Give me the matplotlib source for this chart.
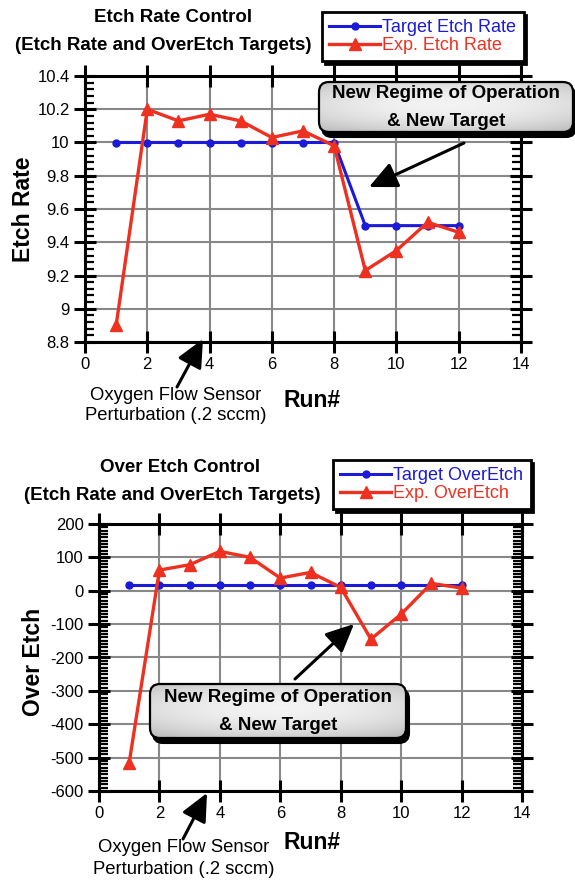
import numpy as np
import matplotlib.pyplot as plt
from matplotlib.patches import FancyBboxPatch
from matplotlib.ticker import MultipleLocator, FuncFormatter

plt.rcParams['font.family'] = ['Liberation Sans', 'DejaVu Sans']
plt.rcParams['axes.unicode_minus'] = False

# data
runs = [1, 2, 3, 4, 5, 6, 7, 8, 9, 10, 11, 12]
target_rate = [10.0, 10.0, 10.0, 10.0, 10.0, 10.0, 10.0, 10.0, 9.5, 9.5, 9.5, 9.5]
exp_rate = [8.9, 10.2, 10.13, 10.17, 10.13, 10.03, 10.07, 9.98, 9.23, 9.35, 9.52, 9.46]
target_oe = [18, 18, 18, 18, 18, 18, 18, 18, 18, 18, 18, 18]
exp_oe = [-515, 62, 78, 118, 100, 38, 55, 10, -145, -70, 22, 8]

W, H = 575, 880
BLUE = '#1a1ad8'
RED = '#ee3020'

fig = plt.figure(figsize=(W / 100, H / 100), dpi=100)


def fig_box(l, t, r, b):
    """pixel box -> figure fraction rect"""
    return [l / W, 1 - b / H, (r - l) / W, (b - t) / H]


def setup_axes(ax, ylim, ymajor, yminor, ylabel, xlab_pos, ylab_pos):
    ax.set_xlim(0, 14)
    ax.set_ylim(*ylim)
    ax.xaxis.set_major_locator(MultipleLocator(2))
    ax.yaxis.set_major_locator(MultipleLocator(ymajor))
    ax.yaxis.set_minor_locator(MultipleLocator(yminor))
    ax.yaxis.set_major_formatter(FuncFormatter(lambda v, p: '%g' % round(v, 6)))
    ax.grid(True, which='major', color='#888888', lw=1.5)
    ax.set_axisbelow(True)
    for s in ax.spines.values():
        s.set_linewidth(2.2)
    ax.tick_params(which='major', direction='inout', length=16, width=2.2,
                   top=True, right=True, labelsize=12, pad=3)
    ax.tick_params(axis='y', which='minor', direction='in', length=6.5, width=1.6,
                   left=True, right=True)
    ax.set_xlabel('Run#', fontsize=16.5, fontweight='bold')
    ax.set_ylabel(ylabel, fontsize=16.5, fontweight='bold')
    ax.xaxis.set_label_coords(*xlab_pos)
    ax.yaxis.set_label_coords(*ylab_pos)


def add_legend(ax, labels, x, y):
    leg = ax.legend(labels, loc='upper left', bbox_to_anchor=(x / W, 1 - y / H),
                    bbox_transform=fig.transFigure, fontsize=13,
                    labelcolor='linecolor', fancybox=False, edgecolor='k',
                    framealpha=1, borderpad=0.4, handlelength=2.8,
                    handletextpad=0.15, labelspacing=0.05, borderaxespad=0,
                    shadow={'color': 'k', 'alpha': 1})
    leg.get_frame().set_linewidth(2)


# --- top chart: etch rate
ax1 = fig.add_axes(fig_box(85, 76, 521, 342))
ax1.plot(runs, target_rate, color=BLUE, lw=2.2, marker='o', ms=5, zorder=3)
ax1.plot(runs, exp_rate, color=RED, lw=2.4, marker='^', ms=8, zorder=4)
setup_axes(ax1, (8.8, 10.4), 0.2, 0.04, 'Etch Rate', (0.52, -0.175), (-0.115, 0.5))
add_legend(ax1, ['Target Etch Rate', 'Exp. Etch Rate'], 322, 12)

# --- bottom chart: over etch
ax2 = fig.add_axes(fig_box(99, 524, 522, 791))
ax2.plot(runs, target_oe, color=BLUE, lw=2.2, marker='o', ms=5, zorder=3)
ax2.plot(runs, exp_oe, color=RED, lw=2.4, marker='^', ms=8, zorder=4)
setup_axes(ax2, (-600, 200), 100, 10, 'Over Etch', (0.504, -0.148), (-0.128, 0.485))
add_legend(ax2, ['Target OverEtch', 'Exp. OverEtch'], 333, 460)

# --- overlay in pixel coordinates for titles, callouts and arrows
ov = fig.add_axes([0, 0, 1, 1], zorder=10)
ov.set_xlim(0, W)
ov.set_ylim(H, 0)
ov.axis('off')
ov.patch.set_alpha(0)

title_kw = dict(fontsize=13.5, fontweight='bold', ha='center', va='center')
ov.text(173, 18, 'Etch Rate Control', **title_kw)
ov.text(163, 46, '(Etch Rate and OverEtch Targets)', **title_kw)
ov.text(180, 467, 'Over Etch Control', **title_kw)
ov.text(172, 495, '(Etch Rate and OverEtch Targets)', **title_kw)

note_kw = dict(fontsize=13.3, ha='center', va='center')
ov.text(176, 395, 'Oxygen Flow Sensor', **note_kw)
ov.text(176, 415, 'Perturbation (.2 sccm)', **note_kw)
ov.text(184, 848, 'Oxygen Flow Sensor', **note_kw)
ov.text(184, 870, 'Perturbation (.2 sccm)', **note_kw)

gx, gy = np.meshgrid(np.linspace(-1, 1, 200), np.linspace(-1, 1, 60))
shade = 0.95 - 0.12 * (0.7 * gx ** 2 + (gy + 0.1) ** 2)


def callout(l, t, r, b, y1, y2):
    sh = FancyBboxPatch((l + 3, t + 5), r - l, b - t,
                        boxstyle='round,pad=0,rounding_size=10',
                        fc='k', ec='k', lw=1.5, zorder=1)
    ov.add_patch(sh)
    box = FancyBboxPatch((l, t), r - l, b - t,
                         boxstyle='round,pad=0,rounding_size=10',
                         fc='none', ec='k', lw=1.6, zorder=3)
    ov.add_patch(box)
    im = ov.imshow(shade, cmap='gray', vmin=0, vmax=1, extent=[l, r, b, t],
                   aspect='auto', zorder=2)
    im.set_clip_path(box)
    cx = (l + r) / 2
    ov.text(cx, y1, 'New Regime of Operation', fontsize=13.5, fontweight='bold',
            ha='center', va='center', zorder=4)
    ov.text(cx, y2, '& New Target', fontsize=13.5, fontweight='bold',
            ha='center', va='center', zorder=4)


def arrow(tail, tip):
    ov.annotate('', xy=tip, xytext=tail,
                arrowprops=dict(arrowstyle='-|>,head_length=0.9,head_width=0.42',
                                lw=2.2, color='k', mutation_scale=19,
                                shrinkA=0, shrinkB=0))


callout(319, 82, 573, 132, 94, 121)
callout(150, 684, 406, 738, 698, 725)

arrow((464, 143), (369, 187))
arrow((177, 387), (203, 339))
arrow((295, 679), (354, 624))
arrow((183, 839), (207, 793))

ov.set_xlim(0, W)
ov.set_ylim(H, 0)

fig.savefig('out.png', dpi=100)
